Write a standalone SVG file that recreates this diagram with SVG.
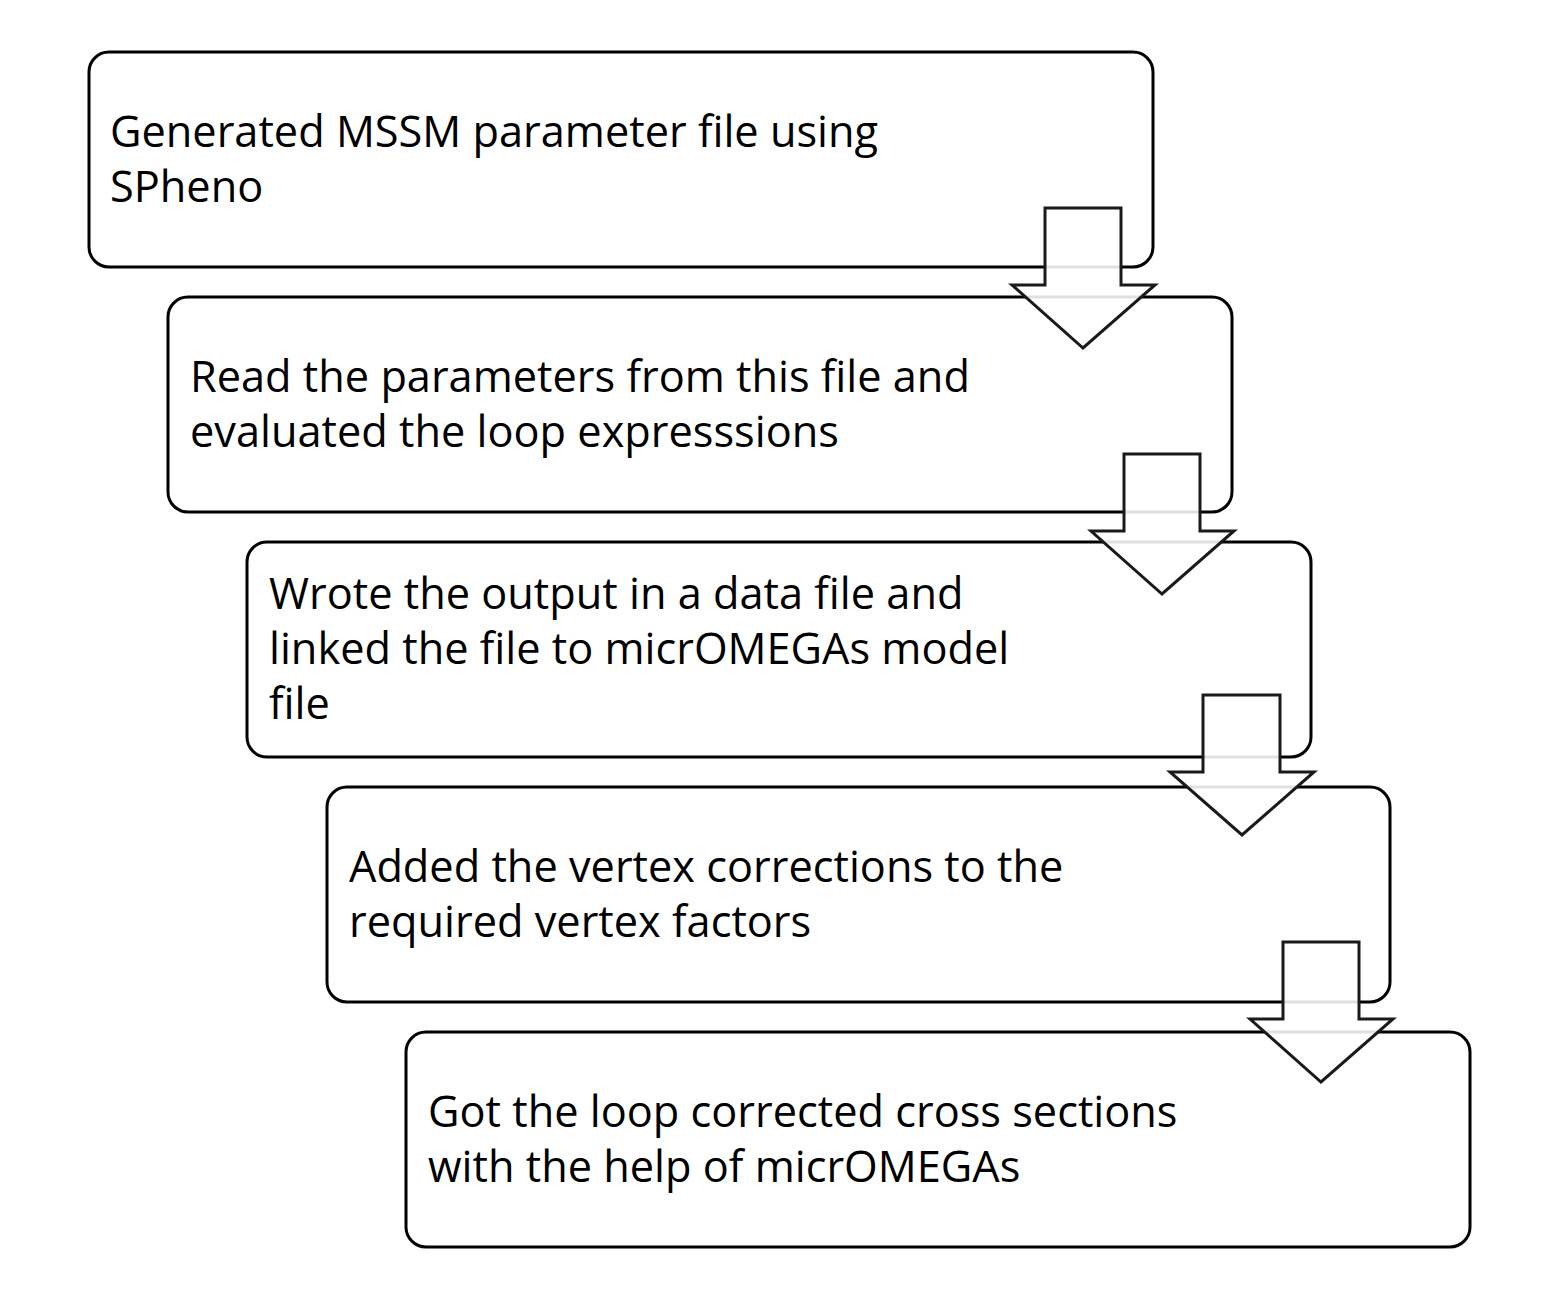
<svg xmlns="http://www.w3.org/2000/svg" width="1550" height="1293" viewBox="0 0 1550 1293">
<style>
.box{fill:#fff;stroke:#000;stroke-width:3}
.arr{fill:#fff;fill-opacity:0.88;stroke:#1a1a1a;stroke-width:3;stroke-linejoin:miter}
.t{font-family:"Open Sans","Noto Sans",sans-serif;font-size:43.3px;fill:#000}
</style>
<rect width="1550" height="1293" fill="#fff"/>
<g id="n1"><rect class="box" x="89" y="52" width="1064" height="215" rx="20"/>
<text class="t" x="110" y="147">Generated MSSM parameter file using</text><text class="t" x="110" y="202">SPheno</text></g>
<g id="n2"><rect class="box" x="168" y="297" width="1064" height="215" rx="20"/>
<text class="t" x="190" y="392">Read the parameters from this file and</text><text class="t" x="190" y="447">evaluated the loop expresssions</text></g>
<g id="n3"><rect class="box" x="247" y="542" width="1064" height="215" rx="20"/>
<text class="t" x="269" y="609">Wrote the output in a data file and</text><text class="t" x="269" y="664">linked the file to micrOMEGAs model</text><text class="t" x="269" y="719">file</text></g>
<g id="n4"><rect class="box" x="327" y="787" width="1063" height="215" rx="20"/>
<text class="t" x="349" y="882">Added the vertex corrections to the</text><text class="t" x="349" y="937">required vertex factors</text></g>
<g id="n5"><rect class="box" x="406" y="1032" width="1064" height="215" rx="20"/>
<text class="t" x="428" y="1127">Got the loop corrected cross sections</text><text class="t" x="428" y="1182">with the help of micrOMEGAs</text></g>
<g id="connectors">
<polygon class="arr" points="1045,208 1121,208 1121,285 1155,285 1083,348 1012,285 1045,285"/>
<polygon class="arr" points="1124,454 1200,454 1200,531 1234,531 1162,594 1091,531 1124,531"/>
<polygon class="arr" points="1203,695 1280,695 1280,772 1314,772 1242,835 1170,772 1203,772"/>
<polygon class="arr" points="1283,942 1359,942 1359,1019 1393,1019 1321,1082 1250,1019 1283,1019"/>
</g>
</svg>
